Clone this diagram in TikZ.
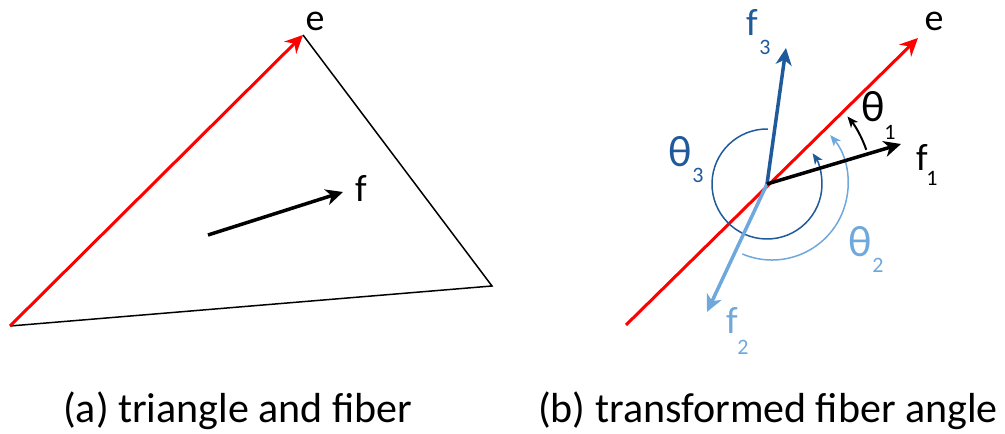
\documentclass[tikz,border=0pt]{standalone}
\usepackage{fontspec}
\setmainfont{Carlito}
\usetikzlibrary{arrows.meta}
\definecolor{dblue}{RGB}{31,90,155}
\definecolor{lblue}{RGB}{111,168,220}
\definecolor{pred}{RGB}{255,0,0}
\begin{document}
\begin{tikzpicture}[x=1pt,y=1pt,
  lbl/.style={inner sep=0pt, font=\fontsize{38}{40}\selectfont},
  thlbl/.style={inner sep=0pt, font=\fontsize{44}{46}\selectfont},
  sublbl/.style={inner sep=0pt, font=\fontsize{22}{24}\selectfont},
  captext/.style={inner sep=0pt, anchor=base west, font=\fontsize{42}{46}\selectfont},
  vecarrow/.style={line width=3.5pt, -{Stealth[length=17pt,width=16pt,inset=5pt]}},
  redarrow/.style={pred, line width=3pt, -{Stealth[length=18pt,width=17pt,inset=6pt]}},
  arcarrow/.style={line width=1.5pt, -{Stealth[length=11pt,width=9pt,inset=3pt]}}]
\useasboundingbox (0,0) rectangle (1005,434);
% ---------- (a) ----------
\coordinate (A) at (10,108);
\coordinate (B) at (303,399);
\coordinate (C) at (492,148);
\draw[line width=1.5pt, line join=miter] (B) -- (C) -- (A);
\draw[redarrow] (A) -- (B);
\coordinate (fs) at (208,199);
\coordinate (fe) at (343,242);
\draw[vecarrow] (fs) -- (fe);
\node[lbl] (elabA) at (315,413) {e};
\node[lbl] (flabA) at (361,246) {f};
\node[captext] (capA) at (63,11) {(a) triangle and fiber};
% ---------- (b) ----------
\coordinate (O) at (767,250);
\coordinate (O2) at (772,250);
\coordinate (R0) at (626,109);
\coordinate (R1) at (918,396);
\coordinate (F1) at (901,290);
\coordinate (F2) at (707,122);
\coordinate (F3) at (786,386);
\draw[redarrow] (R0) -- (R1);
\draw[arcarrow, dblue] ([shift={(89:55)}]O) arc[start angle=89, end angle=394, radius=55];
\draw[arcarrow, lblue] ([shift={(-113:76)}]O2) arc[start angle=-113, end angle=40, radius=76];
\draw[arcarrow, line width=2pt] ([shift={(19:105)}]O) arc[start angle=19, end angle=40, radius=105];
\draw[vecarrow, lblue] (O) -- (F2);
\draw[vecarrow, dblue] (O) -- (F3);
\draw[vecarrow] (O) -- (F1);
\node[lbl] (elabB) at (934,413) {e};
\node[lbl] (f1lab) at (922,277) {f};
\node[sublbl] (f1sub) at (932,256) {1};
\node[lbl, dblue] (f3lab) at (752,412) {f};
\node[sublbl, dblue] (f3sub) at (765,387) {3};
\node[lbl, lblue] (f2lab) at (732,114) {f};
\node[sublbl, lblue] (f2sub) at (743,87) {2};
\node[thlbl] (t1lab) at (873,327) {θ};
\node[sublbl] (t1sub) at (890,302) {1};
\node[thlbl, lblue] (t2lab) at (860,192) {θ};
\node[sublbl, lblue] (t2sub) at (878,169) {2};
\node[thlbl, dblue] (t3lab) at (680,282) {θ};
\node[sublbl, dblue] (t3sub) at (698,259) {3};
\node[captext] (capB) at (538,11) {(b) transformed fiber angle};
\end{tikzpicture}
\end{document}
